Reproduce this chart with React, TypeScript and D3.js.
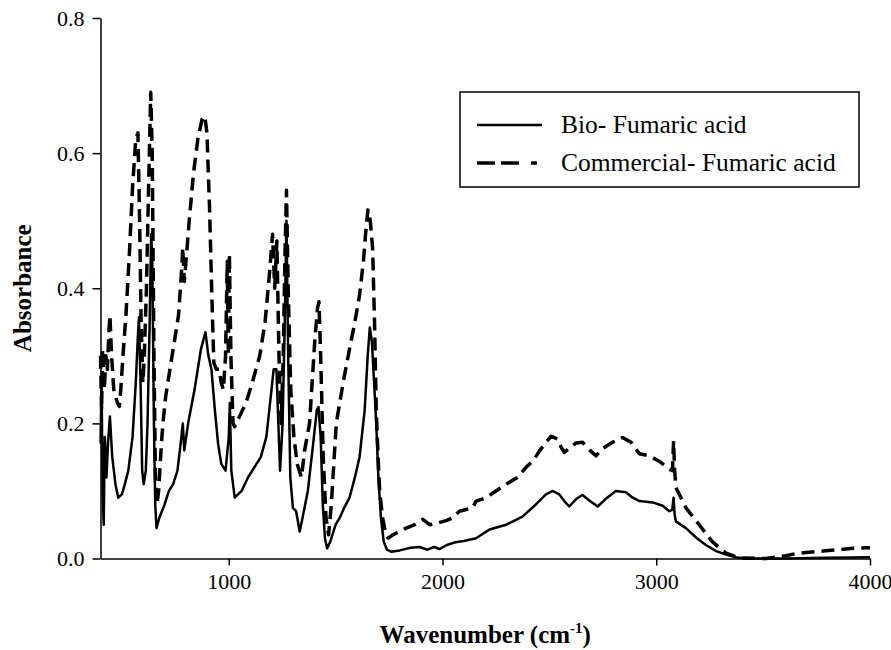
import React, { useEffect, useRef } from "react";
import * as d3 from "d3";

// Wavenumber (cm-1) sample positions and absorbance readings
const bioWavenumber = [
  400, 405, 410, 415, 420, 428, 435, 444, 455, 470, 483, 500, 514, 530, 550, 565, 575, 580, 588, 595,
  602, 612, 620, 630, 637, 642, 650, 656, 662, 675, 700, 720, 740, 760, 775, 785, 792, 810, 840, 870,
  891, 905, 919, 935, 950, 965, 985, 1000, 1005, 1012, 1028, 1060, 1090, 1120, 1150, 1176, 1200, 1210, 1223, 1232,
  1240, 1252, 1262, 1270, 1278, 1288, 1300, 1315, 1332, 1345, 1370, 1395, 1412, 1420, 1430, 1440, 1450, 1460, 1475, 1500,
  1519, 1540, 1565, 1590, 1612, 1636, 1650, 1660, 1670, 1680, 1690, 1700, 1712, 1725, 1740, 1760, 1800, 1850, 1893, 1930,
  1960, 1986, 2020, 2060, 2100, 2157, 2220, 2298, 2374, 2437, 2484, 2515, 2546, 2570, 2593, 2625, 2655, 2690, 2726, 2770,
  2811, 2858, 2890, 2921, 2983, 3030, 3061, 3075, 3081, 3086, 3092, 3139, 3190, 3232, 3280, 3326, 3370, 3419, 3600, 3800,
  4000,
];
const bioAbsorbance = [
  0.17, 0.26, 0.1, 0.05, 0.18, 0.12, 0.17, 0.21, 0.15, 0.11, 0.09, 0.095, 0.11, 0.13, 0.18, 0.26, 0.33, 0.357, 0.25, 0.13,
  0.11, 0.13, 0.2, 0.35, 0.48, 0.45, 0.2, 0.08, 0.045, 0.06, 0.08, 0.1, 0.11, 0.13, 0.17, 0.2, 0.16, 0.2, 0.25, 0.31,
  0.335, 0.3, 0.28, 0.22, 0.17, 0.14, 0.13, 0.18, 0.23, 0.13, 0.09, 0.1, 0.12, 0.135, 0.15, 0.18, 0.25, 0.28, 0.28, 0.2,
  0.13, 0.2, 0.35, 0.5, 0.3, 0.12, 0.075, 0.07, 0.04, 0.06, 0.1, 0.17, 0.22, 0.224, 0.18, 0.08, 0.03, 0.015, 0.025, 0.05,
  0.06, 0.075, 0.09, 0.12, 0.15, 0.22, 0.3, 0.342, 0.32, 0.26, 0.2, 0.12, 0.06, 0.025, 0.013, 0.01, 0.012, 0.016, 0.017, 0.013,
  0.017, 0.014, 0.02, 0.024, 0.026, 0.03, 0.043, 0.05, 0.062, 0.08, 0.095, 0.1, 0.095, 0.085, 0.077, 0.088, 0.094, 0.085, 0.077, 0.09,
  0.1, 0.098, 0.09, 0.085, 0.083, 0.078, 0.07, 0.072, 0.09, 0.065, 0.055, 0.045, 0.03, 0.02, 0.011, 0.006, 0.002, 0, 0, 0.001,
  0.002,
];

const comWavenumber = [
  400, 405, 410, 418, 425, 432, 440, 444, 452, 462, 470, 480, 488, 495, 505, 519, 535, 550, 565, 575,
  583, 590, 598, 605, 615, 625, 635, 642, 650, 657, 664, 672, 685, 692, 705, 720, 735, 750, 765, 778,
  785, 792, 800, 815, 835, 855, 875, 888, 898, 910, 920, 930, 942, 955, 965, 975, 985, 993, 998, 1003,
  1010, 1020, 1028, 1050, 1080, 1110, 1145, 1170, 1190, 1205, 1215, 1225, 1235, 1245, 1255, 1263, 1270, 1278, 1290, 1305,
  1320, 1340, 1355, 1378, 1402, 1415, 1422, 1430, 1442, 1455, 1467, 1480, 1503, 1535, 1565, 1590, 1612, 1630, 1640, 1651,
  1662, 1673, 1682, 1690, 1700, 1706, 1720, 1735, 1747, 1767, 1800, 1830, 1870, 1908, 1940, 1971, 2017, 2047, 2079, 2141,
  2157, 2204, 2250, 2298, 2350, 2391, 2425, 2453, 2480, 2508, 2537, 2555, 2570, 2600, 2625, 2655, 2690, 2718, 2750, 2795,
  2842, 2882, 2921, 2967, 3014, 3061, 3076, 3081, 3086, 3092, 3139, 3201, 3262, 3326, 3388, 3513, 3560, 3606, 3650, 3700,
  3780, 3855, 3920, 3980, 4000,
];
const comAbsorbance = [
  0.3, 0.22, 0.31, 0.25, 0.3, 0.28, 0.34, 0.36, 0.3, 0.25, 0.24, 0.23, 0.225, 0.25, 0.3, 0.36, 0.45, 0.55, 0.62, 0.63,
  0.5, 0.35, 0.26, 0.3, 0.4, 0.55, 0.69, 0.6, 0.3, 0.12, 0.08, 0.1, 0.17, 0.2, 0.24, 0.27, 0.3, 0.33, 0.36, 0.42,
  0.46, 0.41, 0.44, 0.5, 0.57, 0.62, 0.65, 0.655, 0.63, 0.52, 0.4, 0.29, 0.28, 0.28, 0.26, 0.25, 0.3, 0.44, 0.3, 0.45,
  0.3, 0.2, 0.195, 0.21, 0.23, 0.26, 0.3, 0.35, 0.42, 0.48, 0.4, 0.47, 0.3, 0.2, 0.3, 0.45, 0.545, 0.4, 0.25, 0.18,
  0.14, 0.12, 0.16, 0.2, 0.32, 0.37, 0.38, 0.3, 0.15, 0.06, 0.035, 0.08, 0.2, 0.26, 0.31, 0.35, 0.39, 0.44, 0.48, 0.516,
  0.5, 0.46, 0.35, 0.22, 0.14, 0.1, 0.06, 0.035, 0.03, 0.035, 0.04, 0.045, 0.05, 0.058, 0.05, 0.052, 0.056, 0.06, 0.07, 0.075,
  0.085, 0.09, 0.1, 0.11, 0.12, 0.135, 0.145, 0.159, 0.17, 0.181, 0.177, 0.165, 0.157, 0.165, 0.171, 0.172, 0.16, 0.152, 0.163, 0.172,
  0.179, 0.172, 0.155, 0.152, 0.144, 0.132, 0.13, 0.174, 0.13, 0.105, 0.075, 0.05, 0.025, 0.008, 0.001, 0, 0.002, 0.004, 0.007, 0.009,
  0.011, 0.013, 0.015, 0.016, 0.016,
];

const xTicks = [1000, 2000, 3000, 4000];
const yTicks = [0, 0.2, 0.4, 0.6, 0.8];
const seriesNames = ["Bio- Fumaric acid", "Commercial- Fumaric acid"];

const W = 891;
const H = 650;
const FONT = "'Liberation Serif', 'Times New Roman', serif";

export default function App() {
  const ref = useRef<SVGSVGElement>(null);

  useEffect(() => {
    const svg = d3.select(ref.current);
    svg.selectAll("*").remove();

    const x = d3.scaleLinear().domain([400, 4000]).range([100.5, 870]);
    const y = d3.scaleLinear().domain([0, 0.8]).range([558.5, 18]);

    const line = d3
      .line<[number, number]>()
      .x((d) => x(d[0]))
      .y((d) => y(d[1]))
      .curve(d3.curveLinear);

    const bio: [number, number][] = bioWavenumber.map((w, i) => [w, bioAbsorbance[i]]);
    const com: [number, number][] = comWavenumber.map((w, i) => [w, comAbsorbance[i]]);

    const plot = svg.append("g");

    plot
      .append("path")
      .attr("d", line(com))
      .attr("fill", "none")
      .attr("stroke", "#000")
      .attr("stroke-width", 3.5)
      .attr("stroke-dasharray", "13,7")
      .attr("stroke-linejoin", "round");

    plot
      .append("path")
      .attr("d", line(bio))
      .attr("fill", "none")
      .attr("stroke", "#000")
      .attr("stroke-width", 2.5)
      .attr("stroke-linejoin", "round");

    // Axes
    const xAxis = svg
      .append("g")
      .attr("transform", `translate(0,${y(0)})`)
      .call(d3.axisBottom(x).tickValues(xTicks).tickSize(7).tickSizeOuter(0).tickPadding(8).tickFormat(d3.format("d")));
    const yAxis = svg
      .append("g")
      .attr("transform", `translate(${x(400)},0)`)
      .call(d3.axisLeft(y).tickValues(yTicks).tickSize(8).tickSizeOuter(0).tickPadding(8).tickFormat(d3.format(".1f")));

    [xAxis, yAxis].forEach((g) => {
      g.select(".domain").attr("stroke", "#000").attr("stroke-width", 1.5);
      g.selectAll(".tick line").attr("stroke", "#000").attr("stroke-width", 1.5);
      g.selectAll(".tick text")
        .attr("fill", "#000")
        .style("font-family", FONT)
        .style("font-size", "22px");
    });

    // Axis titles
    const xt = svg
      .append("text")
      .attr("x", (x(400) + x(4000)) / 2)
      .attr("y", 643)
      .attr("text-anchor", "middle")
      .style("font-family", FONT)
      .style("font-size", "25px")
      .style("font-weight", "bold");
    xt.append("tspan").text("Wavenumber (cm");
    xt.append("tspan").attr("dy", -10).style("font-size", "15px").text("-1");
    xt.append("tspan").attr("dy", 10).text(")");

    svg
      .append("text")
      .attr("transform", `translate(31,${y(0.4)}) rotate(-90)`)
      .attr("text-anchor", "middle")
      .style("font-family", FONT)
      .style("font-size", "25px")
      .style("font-weight", "bold")
      .text("Absorbance");

    // Legend
    const lg = svg.append("g");
    lg.append("rect")
      .attr("x", 460)
      .attr("y", 92)
      .attr("width", 399)
      .attr("height", 95)
      .attr("fill", "#fff")
      .attr("stroke", "#000")
      .attr("stroke-width", 1.5);
    const rows = [
      { y: 125, dash: null as string | null, width: 2.5 },
      { y: 163, dash: "18,6,18,12,6,100", width: 3.5 },
    ];
    rows.forEach((r, i) => {
      const l = lg
        .append("line")
        .attr("x1", 477)
        .attr("x2", 542)
        .attr("y1", r.y)
        .attr("y2", r.y)
        .attr("stroke", "#000")
        .attr("stroke-width", r.width);
      if (r.dash) l.attr("stroke-dasharray", r.dash);
      lg.append("text")
        .attr("x", 561)
        .attr("y", r.y + 8)
        .style("font-family", FONT)
        .style("font-size", "25.5px")
        .text(seriesNames[i]);
    });
  }, []);

  return (
    <svg ref={ref} width={W} height={H} style={{ display: "block", position: "absolute", left: 0, top: 0, background: "#fff" }} />
  );
}
